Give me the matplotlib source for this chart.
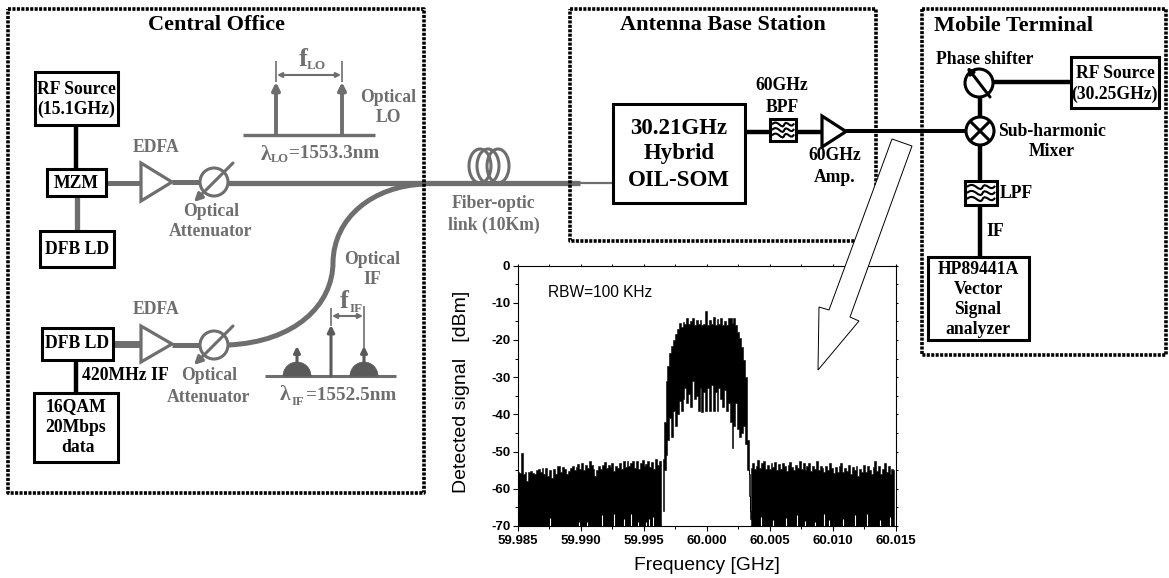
import numpy as np
import matplotlib
matplotlib.use('Agg')
import matplotlib.pyplot as plt
from matplotlib.patches import Rectangle, Circle, Polygon, PathPatch, Ellipse, Wedge
from matplotlib.path import Path

# spectrum values (dBm), one value every 0.15 MHz
floor_left_top = [-55.5, -55.8, -50.5, -56, -55.5, -58, -55.6, -55.2, -55.8, -56, -55, -54.6, -55.6, -54.5, -55.9, -54.3, -56.5,
                  -55, -57, -54.8, -56, -53.8, -54, -55.4, -54.2, -54.6, -56, -55.2, -54.5, -53.8, -55, -54.2, -53.4, -54.8, -53,
                  -55, -53.6, -54.4, -52.6, -53.5, -54.8, -56.5, -55, -54, -54.8, -53.5, -52.8, -54.5, -53.6, -54.2, -53, -55.2,
                  -53.8, -54.5, -53.2, -54.6, -52.6, -54.2, -52.5, -54, -53, -52.4, -54.3, -52.6, -54.6, -53, -52.2, -54, -53.4,
                  -52.5, -54.2, -52.8, -54.8, -52, -53.6, -52.4, -53.8]
floor_right_top = [-54.5, -53, -54.6, -53.8, -52.2, -54.4, -53, -52.4, -54.6, -53.6, -54.8, -53, -54.2, -52.8, -55, -53.4, -54.6,
                   -53, -54, -55.2, -53.6, -52.8, -54.2, -55, -53.6, -54.4, -52.4, -54.8, -53.2, -55, -54, -53, -55.2, -53.8, -54.6,
                   -52.6, -55, -53.8, -54.4, -55.6, -54, -55, -53.2, -54.5, -55.8, -54.2, -55.4, -54, -53, -55.6, -54.4, -55.2,
                   -53.6, -56, -54.2, -55, -53.8, -56.5, -54.6, -55.4, -53.5, -55.6, -54, -55, -56, -54.2, -52.5, -55.2, -54,
                   -56, -54.6, -53, -55.5, -54, -56, -54.8, -55]
floor_gap_freq = [59.98755, 59.98985, 59.99050, 59.99165, 59.99265, 59.99345, 59.99395, 59.99455, 59.99515, 59.99545, 59.99575,
                  60.00430, 60.00530, 60.00630, 60.00715, 60.00780, 60.00860, 60.00935, 60.00975, 60.01080, 60.01175, 60.01275, 60.01380, 60.01460]
floor_gap_top = [-67.8, -69, -68.8, -67, -66.8, -68, -66.8, -68.8, -69, -68.2, -67.5, -67.5, -68.4, -67.8, -67, -68.6, -69, -66.8,
                 -68.5, -68, -67, -66.8, -68.5, -67.5]
band_top = [-52, -42, -31, -27, -23.5, -21.5, -20, -18.5, -17, -15.5, -16.4, -15.2, -15.8, -14.2, -15.6, -15, -14.2, -16, -14.6, -15.8,
            -14.6, -16, -15.8, -12.2, -16, -14.6, -15.6, -13.8, -16, -14.4, -15.8, -14.2, -16, -14.8, -16, -14.2, -14, -15.4, -14.2,
            -16, -18, -19.5, -22, -25.5, -30, -47, -56, -66]
band_low = [-66, -55, -51, -47, -41, -46, -39, -43, -40, -36.5, -39, -36, -33, -37, -34.5, -38, -31, -36, -35, -39, -33, -39.5, -34,
            -39, -33, -39, -32, -39, -34, -39, -33, -36, -38, -33.5, -39, -37, -42, -49, -43, -37, -44, -46, -45, -43, -48, -55,
            -62, -68]

freq_left = 59.985 + 0.00015 * np.arange(len(floor_left_top))
freq_right = 60.0035 + 0.00015 * np.arange(len(floor_right_top))
freq_band = 59.9965 + 0.00015 * np.arange(len(band_top))

x_ticks = [59.985, 59.990, 59.995, 60.000, 60.005, 60.010, 60.015]
x_labels = ['59.985', '59.990', '59.995', '60.000', '60.005', '60.010', '60.015']
y_ticks = [0, -10, -20, -30, -40, -50, -60, -70]

serif = 'Liberation Serif'
grey = '#6e6e6e'

fig = plt.figure(figsize=(11.69, 5.78), dpi=100)

# inset spectrum
W, H = 1169.0, 578.0
ax = fig.add_axes([518/W, 1-526/H, (895.5-518)/W, (526-265.5)/H], zorder=1)
ax.fill_between(freq_left, -70, floor_left_top, step='mid', color='black', lw=0.4)
ax.fill_between(freq_right, -70, floor_right_top, step='mid', color='black', lw=0.4)
ax.fill_between(freq_band, band_low, band_top, step='mid', color='black', lw=0.4)
ax.vlines(floor_gap_freq, -70, floor_gap_top, color='white', lw=0.8)
ax.set_xlim(59.985, 60.015)
ax.set_ylim(-70, 0)
ax.set_xticks(x_ticks)
ax.set_xticklabels(x_labels, fontsize=9.5, fontweight='bold', family='Liberation Sans')
ax.set_yticks(y_ticks)
ax.set_yticklabels([str(v) for v in y_ticks], fontsize=9.5, fontweight='bold', family='Liberation Sans')
ax.set_yticks(np.arange(-65, 0, 10), minor=True)
ax.set_xticks(np.arange(59.9875, 60.015, 0.005), minor=True)
ax.tick_params(which='major', length=3.5, width=0.8, pad=2)
ax.tick_params(which='minor', length=2, width=0.7)
ax.tick_params(axis='x', pad=3)
# short inward marks on the top and right edges
ax.tick_params(which='both', top=True, right=True)
for t in ax.xaxis.get_major_ticks() + ax.xaxis.get_minor_ticks():
    t.tick2line.set_markersize(1.5)
for t in ax.yaxis.get_major_ticks() + ax.yaxis.get_minor_ticks():
    t.tick2line.set_markersize(1.5)
for s in ax.spines.values():
    s.set_linewidth(0.8)
ax.text(59.98735, -7.2, 'RBW=100 KHz', fontsize=11.2, family='Liberation Sans', va='center')
fig.text(462/W, 1-392/H, 'Detected signal   [dBm]', rotation=90, fontsize=14, family='Liberation Sans', ha='center', va='center')
fig.text(707/W, 1-565/H, 'Frequency [GHz]', fontsize=13.9, family='Liberation Sans', ha='center', va='center')

# block diagram on top, in pixel coordinates of the picture
d = fig.add_axes([0, 0, 1, 1], zorder=3)
d.set_xlim(0, W)
d.set_ylim(H, 0)
d.axis('off')


def txt(x, y, s, size=12.7, color='black', ha='center'):
    d.text(x, y, s, fontsize=size, color=color, ha=ha, va='center', family=serif, fontweight='bold', zorder=8)


def box(x0, y0, x1, y1, lw=2.2):
    d.add_patch(Rectangle((x0, y0), x1-x0, y1-y0, fc='white', ec='black', lw=lw, zorder=4))


def dotted(x0, y0, x1, y1):
    d.plot([x0, x1, x1, x0, x0], [y0, y0, y1, y1, y0], color='black', lw=2.6, linestyle=(0, (0.85, 0.38)),
           dash_capstyle='butt', zorder=6)


def line(xs, ys, color='black', lw=2.9, z=2):
    d.plot(xs, ys, color=color, lw=lw, solid_capstyle='butt', zorder=z)


def arrow(x0, y0, x1, y1, color=grey, lw=2.2, style='-|>', ms=11):
    d.annotate('', xy=(x1, y1), xytext=(x0, y0),
               arrowprops=dict(arrowstyle=style, color=color, lw=lw, shrinkA=0, shrinkB=0, mutation_scale=ms), zorder=5)


def amp(x0, y0, x1, y1, color):
    d.add_patch(Polygon([(x0, y0), (x0, y1), (x1, (y0+y1)/2)], fc='white', ec=color, lw=2.3, zorder=4))


def atten(cx, cy):
    d.add_patch(Circle((cx, cy), 14, fc='white', ec=grey, lw=2.2, zorder=4))
    arrow(cx+19, cy-19, cx-20, cy+20, lw=2.2, ms=12)


def filt(x0, y0, x1, y1):
    box(x0, y0, x1, y1, lw=2.2)
    w = x1-x0
    h = y1-y0
    for f in (0.25, 0.5, 0.75):
        yc = y0 + f*h
        v = [(x0+2, yc), (x0+w*0.3, yc-h*0.3), (x0+w*0.45, yc+h*0.3), (x0+w*0.55, yc),
             (x0+w*0.65, yc-h*0.25), (x0+w*0.8, yc+h*0.25), (x1-2, yc-h*0.05)]
        c = [Path.MOVETO] + [Path.CURVE4]*6
        d.add_patch(PathPatch(Path(v, c), fc='none', ec='black', lw=1.5, zorder=5))


# section frames
dotted(8, 9, 424, 493)
dotted(570, 9, 876, 241)
dotted(922, 9, 1166, 355)
txt(217, 25, 'Central Office', 16)
txt(723, 25, 'Antenna Base Station', 16)
txt(934, 26, 'Mobile Terminal', 16, ha='left')

# central office, upper branch
line([76, 76], [125, 170], lw=3.2)
line([77, 77], [196, 232], color=grey, lw=3.8)
line([106, 141], [183, 183], color=grey, lw=3.6)
line([172, 200], [182, 182], color=grey, lw=3.6)
line([228, 580], [183, 183], color=grey, lw=3.8)
line([580, 613], [182.5, 182.5], color=grey, lw=1.6)
box(35, 72, 118, 125)
txt(76.5, 89, 'RF Source')
txt(76.5, 109, '(15.1GHz)')
box(47, 169, 106, 196)
txt(76.5, 183, 'MZM')
box(40, 231, 114, 267)
txt(77, 249, 'DFB LD')
amp(141, 163, 172, 201, grey)
atten(214, 182)
txt(156, 147, 'EDFA', color=grey)
txt(211, 212, 'Optical', color=grey)
txt(211, 232, 'Attenuator', color=grey)

# optical LO sketch
line([243, 375], [135, 135], color=grey, lw=2.4)
arrow(276, 135, 276, 82, lw=2.8)
arrow(342, 135, 342, 82, lw=2.8)
line([276, 276], [61, 82], color=grey, lw=1.2)
line([342, 342], [61, 82], color=grey, lw=1.2)
arrow(277, 75, 341, 75, lw=1.5, style='<|-|>', ms=7)
txt(303, 59, 'f', 19, color=grey)
txt(316, 66, 'LO', 9.5, color=grey)
txt(388, 97, 'Optical', color=grey)
txt(388, 117, 'LO', color=grey)
txt(266, 155, '\u03bb', 15.5, color=grey)
txt(280, 159, 'LO', 9, color=grey)
txt(289, 154, '=1553.3nm', 13.8, color=grey, ha='left')

# central office, lower branch
line([113, 141], [344, 344], color=grey, lw=5)
line([172, 200], [345, 345], color=grey, lw=3.6)
curve_v = [(228, 345), (295, 342), (333, 305), (333, 262), (334, 218), (372, 186), (425, 184)]
curve_c = [Path.MOVETO] + [Path.CURVE4]*6
d.add_patch(PathPatch(Path(curve_v, curve_c), fc='none', ec=grey, lw=3.6, zorder=2))
line([76, 76], [360, 393], lw=3.2)
box(42, 328, 113, 360)
txt(77.5, 344, 'DFB LD')
box(34, 393, 118, 462)
txt(76, 407, '16QAM')
txt(76, 428, '20Mbps')
txt(78, 448, 'data')
txt(82, 376, '420MHz IF', ha='left')
amp(141, 326, 172, 362, grey)
atten(214, 345)
txt(156, 309, 'EDFA', color=grey)
txt(209, 375, 'Optical', color=grey)
txt(209, 397, 'Attenuator', color=grey)

# optical IF sketch
dark = '#5a5a5a'
line([265, 396], [376, 376], color=grey, lw=2.2)
for cx in (297, 364):
    d.add_patch(Wedge((cx, 376), 14, 180, 360, fc=dark, ec=dark, lw=0.5, zorder=3))
    arrow(cx, 364, cx, 346, color=dark, lw=2.2, ms=9)
arrow(331, 376, 331, 325, color=dark, lw=2.2, ms=10)
line([331, 331], [308, 326], color=grey, lw=1.2)
line([364, 364], [306, 350], color=grey, lw=1.2)
arrow(332, 316, 363, 316, lw=1.5, style='<|-|>', ms=7)
txt(344, 301, 'f', 19, color=grey)
txt(356, 309, 'IF', 9.5, color=grey)
txt(372, 259, 'Optical', color=grey)
txt(372, 279, 'IF', color=grey)
txt(285, 395, '\u03bb', 15.5, color=grey)
txt(298, 402, 'IF', 9, color=grey)
txt(306, 396, '=1552.5nm', 13.8, color=grey, ha='left')

# fiber coil
for cx in (480, 488, 498):
    d.add_patch(Ellipse((cx, 166), 22, 34, fc='none', ec=grey, lw=2.2, zorder=2))
txt(494, 204, 'Fiber-optic', color=grey)
txt(494, 225, 'link (10Km)', color=grey)

# antenna base station
box(613, 104, 745, 203)
txt(679, 128, '30.21GHz', 16.5)
txt(679, 153, 'Hybrid', 16.5)
txt(679, 181, 'OIL-SOM', 16.5)
line([745, 822], [132, 132], lw=3.2)
filt(770, 119, 796, 141)
txt(782, 86, '60GHz')
txt(782, 107, 'BPF')
line([845, 972], [131, 131], lw=2.9)
amp(822, 116, 846, 147, 'black')
txt(835, 156, '60GHz')
txt(835, 177, 'Amp.')

# mobile terminal
line([980, 980], [85, 260], lw=3.2)
line([985, 1071], [82, 82], lw=3.2)
d.add_patch(Circle((979, 83), 14, fc='white', ec='black', lw=2.2, zorder=4))
arrow(990, 97, 967, 67, color='black', lw=2.2, ms=9)
d.add_patch(Circle((980, 131), 14, fc='white', ec='black', lw=2.2, zorder=4))
line([970, 990], [121, 141], lw=2.2, z=5)
line([970, 990], [141, 121], lw=2.2, z=5)
box(1071, 57, 1159, 108)
txt(1115, 74, 'RF Source')
txt(1115, 94, '(30.25GHz)')
txt(936, 60, 'Phase shifter', ha='left')
txt(998, 131, 'Sub-harmonic', ha='left')
txt(1052, 152, 'Mixer')
filt(965, 181, 997, 205)
txt(1000, 194, 'LPF', ha='left')
txt(986, 231, 'IF', ha='left')
box(928, 257, 1029, 340)
txt(978, 270, 'HP89441A')
txt(978, 290, 'Vector')
txt(978, 310, 'Signal')
txt(978, 330, 'analyzer')

# big white arrow from the link down to the spectrum
d.add_patch(Polygon([(892, 139), (912, 146), (850, 317), (859, 321), (818, 370), (819, 307), (829, 310)],
                    fc='white', ec='black', lw=0.7, zorder=7))

plt.savefig('out.png', dpi=100)
